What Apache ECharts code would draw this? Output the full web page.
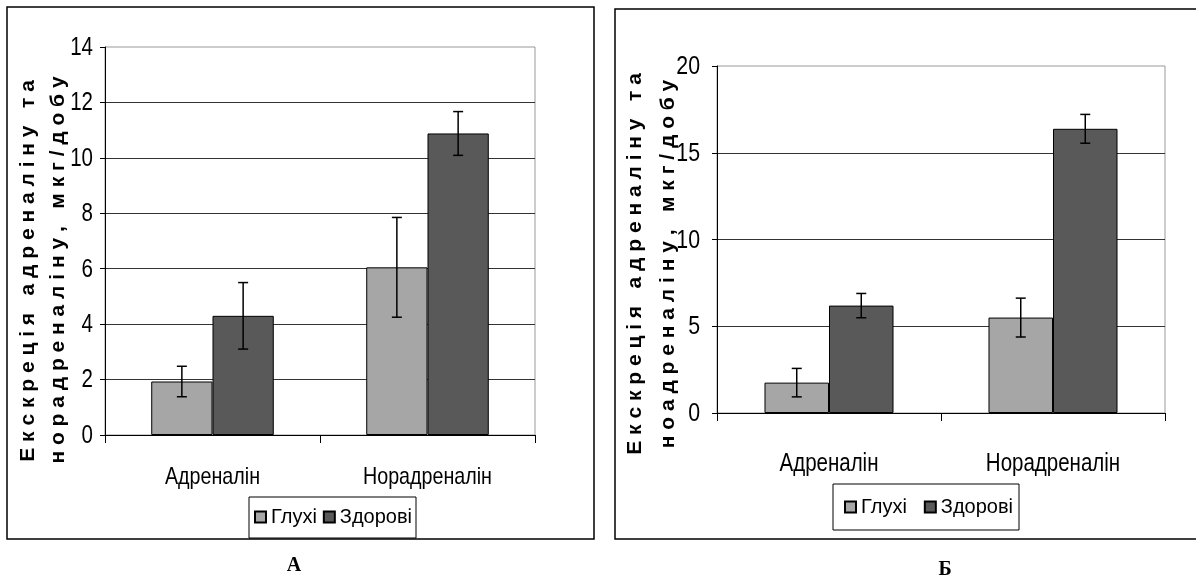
<!DOCTYPE html>
<html>
<head>
<meta charset="utf-8">
<script src="https://cdn.jsdelivr.net/npm/echarts@6/dist/echarts.min.js"></script>
<style>
html,body{margin:0;padding:0;background:#fff;}
#c{width:1196px;height:579px;}
</style>
</head>
<body>
<div id="c"></div>
<script>
// ---- data ----
const categories = ['Адреналін', 'Норадреналін'];
const seriesNames = ['Глухі', 'Здорові'];
// Chart А
const deafA = [1.93, 6.05];
const deafAErr = [0.55, 1.8];
const healthyA = [4.3, 10.88];
const healthyAErr = [1.2, 0.79];
const yTicksA = [0, 2, 4, 6, 8, 10, 12, 14];
// Chart Б
const deafB = [1.75, 5.5];
const deafBErr = [0.82, 1.12];
const healthyB = [6.19, 16.38];
const healthyBErr = [0.7, 0.83];
const yTicksB = [0, 5, 10, 15, 20];
// axis titles
const yTitleA1 = 'Е к с к р е ц і я   а д р е н а л і н у   т а';
const yTitleA2 = 'н о р а д р е н а л і н у ,   м к г / д о б у';
const yTitleB1 = 'Е к с к р е ц і я   а д р е н а л і н у   т а';
const yTitleB2 = 'н о а д р е н а л і н у ,   м к г / д о б у';
const panelLabels = ['А', 'Б'];

// ---- layout / style ----
const SANS = "'Liberation Sans', Arial, sans-serif";
const NARROW_SCALE = 0.82; // Arial Narrow ≈ Arial condensed horizontally
const colors = ['#a6a6a6', '#595959'];
const gapA = 0.43, gapB = 0.424;
const GA = { left: 105, top: 47, width: 430, height: 388 };
const GB = { left: 717, top: 66, width: 448, height: 347 };

function errSeries(name, vals, errs, xi, yi, idx, gap) {
  return {
    type: 'custom', name: name + ' err', xAxisIndex: xi, yAxisIndex: yi, z: 5,
    data: vals.map((v, i) => [i, v, errs[i]]),
    renderItem: function (params, api) {
      const ci = api.value(0), v = api.value(1), e = api.value(2);
      const band = api.size([1, 0])[0];
      const bw = band * (1 - gap) / 2;
      const c = api.coord([ci, v]);
      const x = c[0] + (idx - 0.5) * bw;
      const top = api.coord([ci, v + e])[1];
      const bot = api.coord([ci, v - e])[1];
      const hw = 5;
      const st = { stroke: '#000', lineWidth: 1.5 };
      return { type: 'group', children: [
        { type: 'line', shape: { x1: x, y1: top, x2: x, y2: bot }, style: st },
        { type: 'line', shape: { x1: x - hw, y1: top, x2: x + hw, y2: top }, style: st },
        { type: 'line', shape: { x1: x - hw, y1: bot, x2: x + hw, y2: bot }, style: st }
      ]};
    }
  };
}

function barSeries(name, vals, xi, yi, ci, gap) {
  return {
    type: 'bar', name: name, xAxisIndex: xi, yAxisIndex: yi, data: vals,
    barGap: '0%', barCategoryGap: (gap * 100) + '%',
    itemStyle: { color: colors[ci], borderColor: '#000', borderWidth: 1 },
    emphasis: { disabled: true }
  };
}

function yAxis(gi, ticks) {
  return {
    type: 'value', gridIndex: gi, min: ticks[0], max: ticks[ticks.length - 1], interval: ticks[1] - ticks[0],
    axisLine: { show: true, lineStyle: { color: '#000', width: 1 } },
    axisTick: { show: true, length: 5, lineStyle: { color: '#000' } },
    axisLabel: { show: false },
    splitLine: { show: true, showMaxLine: false, lineStyle: { color: '#333', width: 1 } }
  };
}

function xAxis(gi) {
  return {
    type: 'category', gridIndex: gi, data: categories,
    axisLine: { show: true, lineStyle: { color: '#000', width: 1 } },
    axisTick: { show: true, length: 8, lineStyle: { color: '#000' } },
    axisLabel: { show: false }
  };
}

function legend(left, top, fs, gap, pad) {
  return {
    left: left, top: top, orient: 'horizontal',
    data: seriesNames, icon: 'rect', itemWidth: 11, itemHeight: 11, itemGap: gap,
    borderColor: '#000', borderWidth: 1, padding: pad, backgroundColor: '#fff',
    selectedMode: false,
    textStyle: { fontFamily: SANS, fontSize: fs, color: '#000' }
  };
}

function vtext(x, y, text, fs, fw) {
  return { type: 'text', x: x, y: y, rotation: Math.PI / 2, z: 10,
    style: { text: text, fontFamily: SANS, fontSize: fs, fontWeight: fw, fill: '#000',
      align: 'center', verticalAlign: 'middle' } };
}

function ntext(x, y, text, fs, align) {
  return { type: 'text', x: x, y: y, scaleX: NARROW_SCALE, z: 10,
    style: { text: text, fontFamily: SANS, fontSize: fs, fill: '#000',
      align: align, verticalAlign: 'middle' } };
}

const chart = echarts.init(document.getElementById('c'), null, { renderer: 'canvas' });
chart.setOption({
  animation: false,
  backgroundColor: '#fff',
  grid: [
    Object.assign({ show: true, borderColor: '#999', borderWidth: 1, backgroundColor: 'transparent' }, GA),
    Object.assign({ show: true, borderColor: '#999', borderWidth: 1, backgroundColor: 'transparent' }, GB)
  ],
  xAxis: [xAxis(0), xAxis(1)],
  yAxis: [yAxis(0, yTicksA), yAxis(1, yTicksB)],
  legend: [legend(249, 497, 20, 6, [10, 4, 11, 5]), legend(833, 484, 20, 17, [13, 6, 13, 11])],
  series: [
    barSeries(seriesNames[0], deafA, 0, 0, 0, gapA),
    barSeries(seriesNames[1], healthyA, 0, 0, 1, gapA),
    barSeries(seriesNames[0], deafB, 1, 1, 0, gapB),
    barSeries(seriesNames[1], healthyB, 1, 1, 1, gapB),
    errSeries('Глухі А', deafA, deafAErr, 0, 0, 0, gapA),
    errSeries('Здорові А', healthyA, healthyAErr, 0, 0, 1, gapA),
    errSeries('Глухі Б', deafB, deafBErr, 1, 1, 0, gapB),
    errSeries('Здорові Б', healthyB, healthyBErr, 1, 1, 1, gapB)
  ]
});

// Axis labels (narrow face) positioned through the chart's own scales
const g = [
  { type: 'rect', shape: { x: 7, y: 7, width: 587, height: 532 }, style: { fill: 'none', stroke: '#000', lineWidth: 1.5 }, z: -1 },
  { type: 'rect', shape: { x: 615, y: 9, width: 620, height: 530 }, style: { fill: 'none', stroke: '#000', lineWidth: 1.5 }, z: -1 },
  vtext(28, 271, yTitleA1, 21, 'bold'),
  vtext(58, 270, yTitleA2, 21, 'bold'),
  vtext(635, 264, yTitleB1, 21, 'bold'),
  vtext(668, 264, yTitleB2, 21, 'bold'),
  { type: 'text', x: 294, y: 566, style: { text: panelLabels[0], fontFamily: "'Liberation Serif', serif", fontSize: 20, fontWeight: 'bold', fill: '#000', align: 'center', verticalAlign: 'middle' } },
  { type: 'text', x: 945, y: 570, style: { text: panelLabels[1], fontFamily: "'Liberation Serif', serif", fontSize: 20, fontWeight: 'bold', fill: '#000', align: 'center', verticalAlign: 'middle' } }
];
yTicksA.forEach(v => {
  const y = chart.convertToPixel({ yAxisIndex: 0 }, v);
  g.push(ntext(GA.left - 12, y + 1, String(v), 25, 'right'));
});
yTicksB.forEach(v => {
  const y = chart.convertToPixel({ yAxisIndex: 1 }, v);
  g.push(ntext(GB.left - 17, y + 1, String(v), 26, 'right'));
});
categories.forEach(c => {
  const xa = chart.convertToPixel({ xAxisIndex: 0 }, c);
  g.push(ntext(xa, GA.top + GA.height + 42, c, 24, 'center'));
  const xb = chart.convertToPixel({ xAxisIndex: 1 }, c);
  g.push(ntext(xb, GB.top + GB.height + 51, c, 25, 'center'));
});
chart.setOption({ graphic: g });
</script>
</body>
</html>
